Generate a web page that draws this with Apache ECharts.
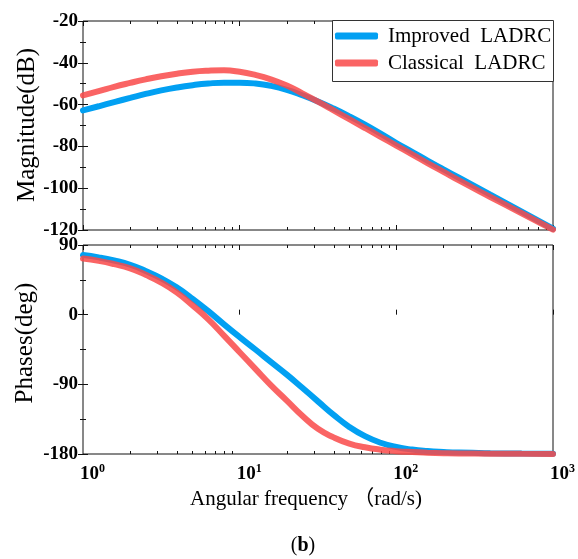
<!DOCTYPE html>
<html>
<head>
<meta charset="utf-8">
<script src="https://cdn.jsdelivr.net/npm/echarts@6/dist/echarts.min.js"></script>
<style>html,body{margin:0;padding:0;background:#fff}#c{width:578px;height:559px}</style>
</head>
<body>
<div id="c"></div>
<script>
// Angular frequency (rad/s)
const freq = [1, 1.26, 1.58, 2, 2.51, 3.16, 3.98, 5.01, 6.31, 7.94, 10, 12.6, 15.8, 20, 25.1, 31.6, 39.8, 50.1, 63.1, 79.4, 100, 126, 158, 200, 251, 398, 631, 1000];
// Magnitude (dB)
const magImproved = [-62.8, -60.8, -58.8, -56.8, -54.9, -53.2, -51.8, -50.7, -49.9, -49.5, -49.5, -49.9, -51.0, -52.9, -55.5, -58.5, -61.9, -65.6, -69.6, -73.9, -78.4, -82.6, -86.8, -91, -95, -103.1, -111.2, -119.4];
const magClassical = [-55.6, -53.6, -51.5, -49.6, -47.9, -46.4, -45.2, -44.3, -43.8, -43.6, -44.3, -45.8, -47.9, -50.9, -54.6, -58.6, -62.8, -67.0, -71.2, -75.4, -79.6, -83.8, -88, -92.2, -96.3, -104.2, -112, -119.8];
// Phase (deg)
const phaseImproved = [77, 74, 70, 64.5, 56.5, 47, 35, 20.5, 4.5, -12.5, -29, -45, -61, -77.5, -94.5, -112, -129.5, -145, -157, -165.5, -171, -174.3, -176.2, -177.4, -178.2, -179, -179.4, -179.6];
const phaseClassical = [72.5, 69.5, 65.3, 59.8, 51.5, 41.5, 28.5, 12, -6, -27, -48.5, -70, -91, -111, -130.5, -147.5, -158.5, -166.5, -171.3, -174.4, -176.3, -177.5, -178.3, -178.9, -179.3, -179.6, -179.8, -179.9];
const seriesNames = ['Improved  LADRC', 'Classical  LADRC'];
const magTicks = {min: -120, max: -20, interval: 20};
const phaseTicks = {min: -180, max: 90, interval: 90};

const BLUE = '#02a0f2';
const RED = 'rgba(249,73,73,0.85)';
const SERIF = '"Liberation Serif", "Times New Roman", serif';
const AX = '#111';

const pair = (xs, ys) => xs.map((x, i) => [x, ys[i]]);
const minorDecades = [];
[0, 1, 2].forEach(d => { for (let m = 2; m <= 9; m++) minorDecades.push(d + Math.log10(m)); });

const grids = [
  {left: 83, top: 21, width: 470, height: 209, show: true, borderColor: AX, borderWidth: 1, backgroundColor: 'transparent'},
  {left: 83, top: 245, width: 470, height: 209, show: true, borderColor: AX, borderWidth: 1, backgroundColor: 'transparent'}
];

const xAxes = [];
const yAxes = [];
[0, 1].forEach(g => {
  xAxes.push({
    type: 'log', logBase: 10, min: 1, max: 1000, gridIndex: g, position: 'bottom',
    axisLine: {show: false}, axisTick: {show: false}, splitLine: {show: false},
    axisLabel: {
      show: g === 1, align: 'left', margin: 9, padding: [0, 0, 0, -3],
      formatter: v => '{b|10}{s|' + Math.round(Math.log10(v)) + '}',
      rich: {
        b: {fontFamily: SERIF, fontWeight: 'bold', fontSize: 19, color: '#000', lineHeight: 22},
        s: {fontFamily: SERIF, fontWeight: 'bold', fontSize: 12, color: '#000', verticalAlign: 'top', lineHeight: 12}
      }
    }
  });
  ['bottom', 'top'].forEach(pos => {
    xAxes.push({
      type: 'value', min: 0, max: 3, interval: 1, gridIndex: g, position: pos,
      axisLine: {show: false}, splitLine: {show: false}, axisLabel: {show: false},
      axisTick: {show: true, inside: true, length: 5, lineStyle: {color: AX, width: 1}}
    });
    xAxes.push({
      type: 'value', min: 0, max: 3, gridIndex: g, position: pos,
      axisLine: {show: false}, splitLine: {show: false}, axisLabel: {show: false},
      axisTick: {show: true, inside: true, length: 3, customValues: minorDecades, lineStyle: {color: AX, width: 1}}
    });
  });
  const t = g === 0 ? magTicks : phaseTicks;
  ['left', 'right'].forEach(pos => {
    yAxes.push({
      type: 'value', gridIndex: g, position: pos, min: t.min, max: t.max, interval: t.interval,
      axisLine: {show: false}, splitLine: {show: false},
      axisTick: {show: true, inside: true, length: 5, lineStyle: {color: AX}},
      minorTick: {show: true, splitNumber: 2, length: 3, lineStyle: {color: AX}},
      axisLabel: {show: pos === 'left', margin: 5, fontFamily: SERIF, fontWeight: 'bold', fontSize: 19, color: '#000'}
    });
  });
});

const mkSeries = (name, data, color, xi, yi, z) => ({
  name, type: 'line', data, xAxisIndex: xi, yAxisIndex: yi, showSymbol: false, symbol: 'none',
  smooth: 0.5, color, lineStyle: {width: 6, color, cap: 'round'}, z
});

const chart = echarts.init(document.getElementById('c'), null, {renderer: 'canvas'});
chart.setOption({
  animation: false,
  backgroundColor: '#fff',
  grid: grids,
  xAxis: xAxes,
  yAxis: yAxes,
  legend: {
    data: seriesNames, orient: 'vertical', left: 335, top: 25, padding: 0, itemWidth: 43, itemHeight: 7, itemGap: 5,
    icon: 'roundRect', z: 20,
    textStyle: {fontFamily: SERIF, fontSize: 21, color: '#000', lineHeight: 22, padding: [0, 0, 0, 5]}
  },
  series: [
    mkSeries(seriesNames[0], pair(freq, magImproved), BLUE, 0, 0, 2),
    mkSeries(seriesNames[1], pair(freq, magClassical), RED, 0, 0, 3),
    mkSeries(seriesNames[0], pair(freq, phaseImproved), BLUE, 5, 2, 2),
    mkSeries(seriesNames[1], pair(freq, phaseClassical), RED, 5, 2, 3)
  ],
  graphic: [
    {type: 'rect', left: 332, top: 20, shape: {width: 221, height: 61}, z: 15,
     style: {fill: '#fff', stroke: '#333', lineWidth: 1}},
    {type: 'text', x: 27, y: 125, rotation: Math.PI / 2,
     style: {text: 'Magnitude(dB)', font: '25px ' + SERIF, fill: '#000', textAlign: 'center', textVerticalAlign: 'middle'}},
    {type: 'text', x: 25, y: 343, rotation: Math.PI / 2,
     style: {text: 'Phases(deg)', font: '25px ' + SERIF, fill: '#000', textAlign: 'center', textVerticalAlign: 'middle'}},
    {type: 'text', x: 306, y: 499,
     style: {text: 'Angular frequency （rad/s)', font: '21px ' + SERIF + ', "Noto Sans CJK SC"', fill: '#000', textAlign: 'center', textVerticalAlign: 'middle'}},
    {type: 'text', x: 303, y: 546,
     style: {text: '({b|b})', font: '20px ' + SERIF, fill: '#000', textAlign: 'center', textVerticalAlign: 'middle',
       rich: {b: {font: 'bold 20px ' + SERIF, fill: '#000'}}}}
  ]
});
</script>
</body>
</html>
